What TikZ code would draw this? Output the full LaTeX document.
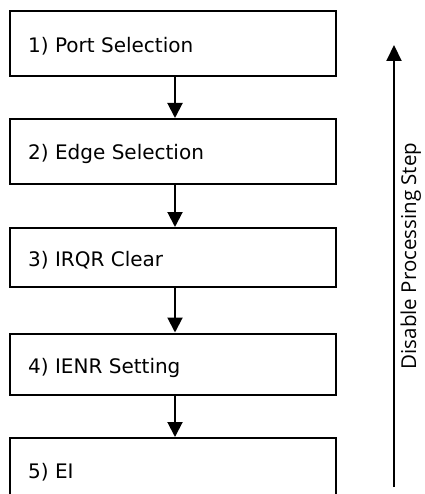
\documentclass[tikz,border=0pt]{standalone}
\usepackage{fontspec}
\setmainfont{DejaVu Sans}
\newfontfamily\sidefont{Open Sans}
\usetikzlibrary{arrows.meta}
\begin{document}
\begin{tikzpicture}[x=1pt,y=-1pt,
  stepbox/.style={draw, line width=2pt, minimum width=326pt, inner sep=0pt, anchor=north west},
  steptext/.style={anchor=base west, inner sep=0pt, font=\fontsize{20}{23}\selectfont},
  flow/.style={line width=2pt, -{Triangle[width=15pt,length=15pt]}},
  sidelabel/.style={rotate=90, anchor=base, inner sep=0pt, font=\sidefont\fontsize{20.5}{24}\selectfont}]
\useasboundingbox (0,0) rectangle (424,494);
\clip (0,0) rectangle (424,494);
\node[stepbox, minimum height=65pt] (b1) at (9,10) {};
\node[stepbox, minimum height=65pt] (b2) at (9,118) {};
\node[stepbox, minimum height=59pt] (b3) at (9,227) {};
\node[stepbox, minimum height=61pt] (b4) at (9,332.5) {};
\node[stepbox, minimum height=90pt] (b5) at (9,437) {};
\node[steptext] (t1) at (28,52.7) {1) Port Selection};
\node[steptext] (t2) at (28,160) {2) Edge Selection};
\node[steptext] (t3) at (28,266.7) {3) IRQR Clear};
\node[steptext] (t4) at (28,373) {4) IENR Setting};
\node[steptext] (t5) at (28,478) {5) EI};
\draw[flow] (b1.south -| 175,0) -- (b2.north -| 175,0);
\draw[flow] (b2.south -| 175,0) -- (b3.north -| 175,0);
\draw[flow] (b3.south -| 175,0) -- (b4.north -| 175,0);
\draw[flow] (b4.south -| 175,0) -- (b5.north -| 175,0);
\coordinate (sbot) at (394,487);
\coordinate (stop) at (394,45);
\draw[line width=2pt, -{Triangle[width=15pt,length=16pt]}] (sbot) -- (stop);
\node[sidelabel] (side) at (416,256) {Disable Processing Step};
\end{tikzpicture}
\end{document}
